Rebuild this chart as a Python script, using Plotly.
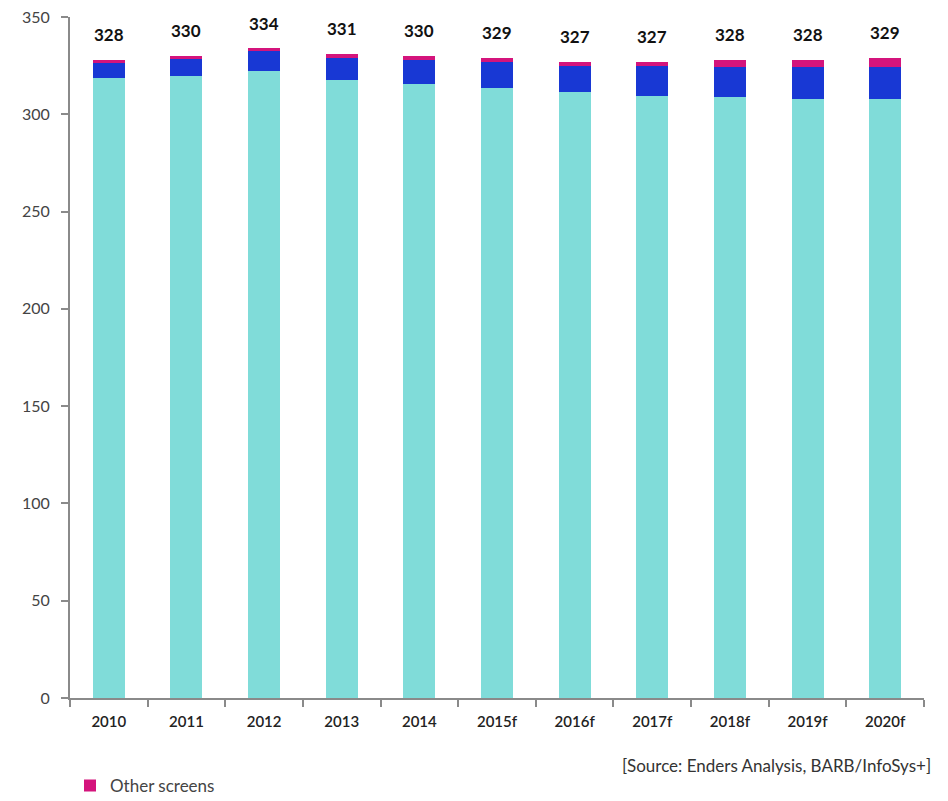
import plotly.graph_objects as go

years = ["2010", "2011", "2012", "2013", "2014", "2015f", "2016f", "2017f", "2018f", "2019f", "2020f"]
totals = [328, 330, 334, 331, 330, 329, 327, 327, 328, 328, 329]
tv_set = [318.7, 319.7, 322.0, 317.7, 315.5, 313.6, 311.3, 309.6, 308.9, 308.0, 308.1]
recorded = [7.6, 8.6, 10.6, 11.1, 12.2, 13.3, 13.4, 15.1, 15.3, 16.2, 16.2]
other_screens = [1.7, 1.7, 1.4, 2.2, 2.3, 2.1, 2.3, 2.3, 3.8, 3.8, 4.7]

CYAN = "#80DCD9"
BLUE = "#1838D4"
PINK = "#D4147C"

fig = go.Figure()
fig.add_bar(x=years, y=tv_set, name="Live TV set", marker_color=CYAN,
            marker_line_width=0, showlegend=False)
fig.add_bar(x=years, y=recorded, name="Playback", marker_color=BLUE,
            marker_line_width=0, showlegend=False)
fig.add_bar(x=years, y=other_screens, name="Other screens", marker_color=PINK,
            marker_line_width=0, showlegend=True)

for i, t in enumerate(totals):
    fig.add_annotation(x=i, y=t, text=f"<b>{t}</b>", showarrow=False,
                       yanchor="middle", yshift=25,
                       font=dict(size=17, color="#111111", family="Lato"))

fig.add_annotation(xref="paper", yref="paper", x=1.01, y=-0.099,
                   xanchor="right", yanchor="middle", showarrow=False,
                   text="[Source: Enders Analysis, BARB/InfoSys+]",
                   font=dict(size=17, color="#333333", family="Lato"))

fig.update_layout(
    barmode="stack",
    bargap=0.588,
    width=940, height=793,
    margin=dict(l=62, r=24, t=9, b=103, autoexpand=False),
    plot_bgcolor="white", paper_bgcolor="white",
    font=dict(family="Lato", size=15, color="#333333"),
    legend=dict(orientation="h", x=0.0, y=-0.129, xanchor="left", yanchor="middle",
                font=dict(size=17, color="#444444", family="Lato"),
                itemwidth=30, bgcolor="rgba(0,0,0,0)"),
)
fig.update_xaxes(
    type="category", showline=True, linecolor="#8a8a8a", linewidth=2,
    ticks="outside", tickson="boundaries", ticklen=7, tickcolor="#8a8a8a", tickwidth=2,
    tickfont=dict(size=15, color="#222222", family="Lato", weight=600),
    ticklabelstandoff=9,
    showgrid=False, range=[-0.5, 10.5],
)
fig.update_yaxes(
    range=[0, 350], tickvals=[0, 50, 100, 150, 200, 250, 300, 350],
    showline=True, linecolor="#8a8a8a", linewidth=2,
    ticks="outside", ticklen=7, tickcolor="#8a8a8a", tickwidth=2,
    tickfont=dict(size=16, color="#444444", family="Lato"),
    ticklabelstandoff=8, ticklabeloverflow="allow",
    showgrid=False, zeroline=False,
)

fig.write_html("out.html")
